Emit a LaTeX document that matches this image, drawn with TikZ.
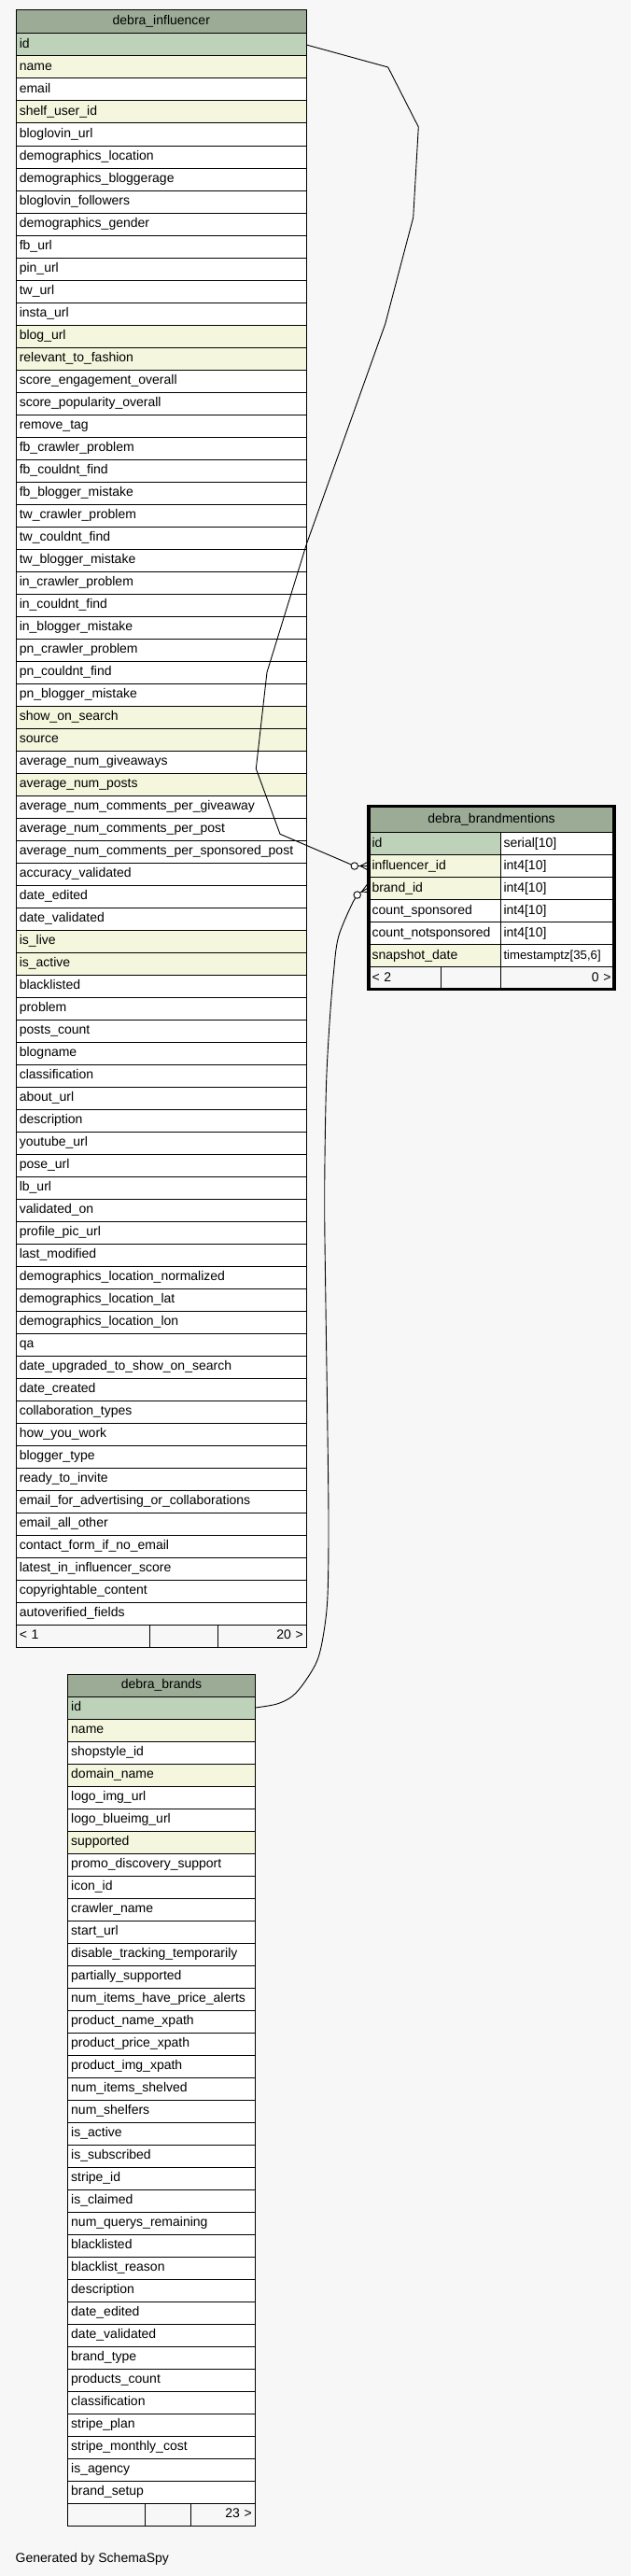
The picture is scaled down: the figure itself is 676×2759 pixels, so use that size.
\documentclass[tikz,border=0pt]{standalone}
\usepackage{fontspec}
\setmainfont{Liberation Sans}
\usepackage{tikz}
\usetikzlibrary{positioning,calc}

\definecolor{bgc}{HTML}{F7F7F7}
\definecolor{hdr}{HTML}{9BAB96}
\definecolor{pk}{HTML}{BED1B9}
\definecolor{idx}{HTML}{F4F7DD}

\begin{document}
\begin{tikzpicture}[x=1pt, y=-1pt,
    col/.style={
        draw, fill=white, line width=1pt, outer sep=0pt, inner xsep=3.5pt, inner ysep=0pt,
        minimum height=24pt, text height=10pt, text depth=3pt, align=left,
        font=\fontsize{14}{16}\selectfont
    },
    head/.style={col, fill=hdr, align=center},
    infcol/.style={col, text width=304pt},
    brcol/.style={col, text width=193.6pt},
    bmcol/.style={col, text width=134pt},
    bmtcol/.style={col, text width=115pt},
    foot/.style={col, fill=bgc},
    rel/.style={line width=0.9pt},
    opt/.style={circle, draw, fill=white, line width=0.9pt, minimum size=7.5pt, inner sep=0pt}
]

\useasboundingbox (0,0) rectangle (676,2759);
\fill[bgc] (0,0) rectangle (676,2759);

% Table: debra_influencer
\node[head, text width=304pt, minimum height=25pt, anchor=north west] (inf0) at (17.3,11) {debra\_influencer};
\foreach \f/\c [count=\i, remember=\i as \p (initially 0)] in {
    id/pk, name/idx, email/white, shelf\_user\_id/idx, bloglovin\_url/white,
    demographics\_location/white, demographics\_bloggerage/white, bloglovin\_followers/white,
    demographics\_gender/white, fb\_url/white, pin\_url/white, tw\_url/white, insta\_url/white,
    blog\_url/idx, relevant\_to\_fashion/idx, score\_engagement\_overall/white,
    score\_popularity\_overall/white, remove\_tag/white, fb\_crawler\_problem/white,
    fb\_couldnt\_find/white, fb\_blogger\_mistake/white, tw\_crawler\_problem/white,
    tw\_couldnt\_find/white, tw\_blogger\_mistake/white, in\_crawler\_problem/white,
    in\_couldnt\_find/white, in\_blogger\_mistake/white, pn\_crawler\_problem/white,
    pn\_couldnt\_find/white, pn\_blogger\_mistake/white, show\_on\_search/idx, source/idx,
    average\_num\_giveaways/white, average\_num\_posts/idx,
    average\_num\_comments\_per\_giveaway/white, average\_num\_comments\_per\_post/white,
    average\_num\_comments\_per\_sponsored\_post/white, accuracy\_validated/white,
    date\_edited/white, date\_validated/white, is\_live/idx, is\_active/idx,
    blacklisted/white, problem/white, posts\_count/white, blogname/white,
    classification/white, about\_url/white, description/white, youtube\_url/white,
    pose\_url/white, lb\_url/white, validated\_on/white, profile\_pic\_url/white,
    last\_modified/white, demographics\_location\_normalized/white,
    demographics\_location\_lat/white, demographics\_location\_lon/white, qa/white,
    date\_upgraded\_to\_show\_on\_search/white, date\_created/white,
    collaboration\_types/white, how\_you\_work/white, blogger\_type/white,
    ready\_to\_invite/white, email\_for\_advertising\_or\_collaborations/white,
    email\_all\_other/white, contact\_form\_if\_no\_email/white,
    latest\_in\_influencer\_score/white, copyrightable\_content/white,
    autoverified\_fields/white}
{
    \node[infcol, fill=\c, below=0pt of inf\p] (inf\i) {\f};
}
\node[foot, text width=136pt, anchor=north west] (inff1) at (inf71.south west) {< 1};
\node[foot, text width=66pt, right=0pt of inff1] (inff2) {};
\node[foot, text width=88pt, align=right, right=0pt of inff2] (inff3) {20 >};

% Table: debra_brands
\node[head, text width=193.6pt, anchor=north west] (br0) at (72.7,1793) {debra\_brands};
\foreach \f/\c [count=\i, remember=\i as \p (initially 0)] in {
    id/pk, name/idx, shopstyle\_id/white, domain\_name/idx, logo\_img\_url/white,
    logo\_blueimg\_url/white, supported/idx, promo\_discovery\_support/white, icon\_id/white,
    crawler\_name/white, start\_url/white, disable\_tracking\_temporarily/white,
    partially\_supported/white, num\_items\_have\_price\_alerts/white,
    product\_name\_xpath/white, product\_price\_xpath/white, product\_img\_xpath/white,
    num\_items\_shelved/white, num\_shelfers/white, is\_active/white, is\_subscribed/white,
    stripe\_id/white, is\_claimed/white, num\_querys\_remaining/white, blacklisted/white,
    blacklist\_reason/white, description/white, date\_edited/white, date\_validated/white,
    brand\_type/white, products\_count/white, classification/white, stripe\_plan/white,
    stripe\_monthly\_cost/white, is\_agency/white, brand\_setup/white}
{
    \node[brcol, fill=\c, below=0pt of br\p] (br\i) {\f};
}
\node[foot, text width=75.6pt, anchor=north west] (brf1) at (br36.south west) {};
\node[foot, text width=42pt, right=0pt of brf1] (brf2) {};
\node[foot, text width=62pt, align=right, right=0pt of brf2] (brf3) {23 >};

% Table: debra_brandmentions
\node[head, text width=256pt, minimum height=28pt, anchor=north west] (bmn0) at (395,863.5) {debra\_brandmentions};
\foreach \f/\t/\c [count=\i, remember=\i as \p (initially 0)] in {
    id/serial[10]/pk, influencer\_id/int4[10]/idx, brand\_id/int4[10]/idx,
    count\_sponsored/int4[10]/white, count\_notsponsored/int4[10]/white,
    snapshot\_date/{\fontsize{13.2}{16}\selectfont timestamptz[35,6]}/idx}
{
    \node[bmcol, fill=\c, anchor=north west] (bmn\i) at (bmn\p.south west) {\f};
    \node[bmtcol, right=0pt of bmn\i] (bmt\i) {\t};
}
\node[foot, text width=70.3pt, anchor=north west] (bmf1) at (bmn6.south west) {< 2};
\node[foot, text width=56.7pt, right=0pt of bmf1] (bmf2) {};
\node[foot, text width=115pt, align=right, right=0pt of bmf2] (bmf3) {0 >};
\draw[line width=3.5pt] (bmn0.north west) rectangle (bmf3.south east);

% Relationships
\node[opt, left=11pt of bmn2] (o1) {};
\node[opt] (o2) at ($(bmn3.west)+(-12.3,7)$) {};

\draw[rel] (inf1.east) -- (415.7,72) -- (448.3,136) -- (442.7,233) -- (412.7,347)
    -- (328.3,583) -- (286,720) -- (274.3,823.3) -- (300,893.3) -- (o1);
\draw[rel] (o1) -- ($(bmn2.west)+(-9,0)$);
\foreach \dy in {-4,0,4}
{
    \draw[rel] ($(bmn2.west)+(-9,0)$) -- ($(bmn2.west)+(-1.5,\dy)$);
}

\draw[rel] plot[smooth, tension=0.55] coordinates {(br1.east) (296.7,1825) (313.3,1816.6)
    (326.7,1801) (340,1778) (346.7,1749.4) (351,1709) (352,1629) (350.7,1514) (349,1399)
    (347.7,1284) (349.3,1169.6) (352.7,1100.7) (357.3,1043) (362.7,1003) (378.3,965.8)} -- (o2);
\draw[rel] (o2) -- ($(bmn3.west)+(-7.5,3.5)$);
\foreach \dy in {-4.5,0,4}
{
    \draw[rel] ($(bmn3.west)+(-7.5,3.5)$) -- ($(bmn3.west)+(-1.5,\dy)$);
}

\node[anchor=base west, inner sep=0pt, font=\fontsize{14}{16}\selectfont] (gen) at (16.5,2744) {Generated by SchemaSpy};

\end{tikzpicture}
\end{document}
